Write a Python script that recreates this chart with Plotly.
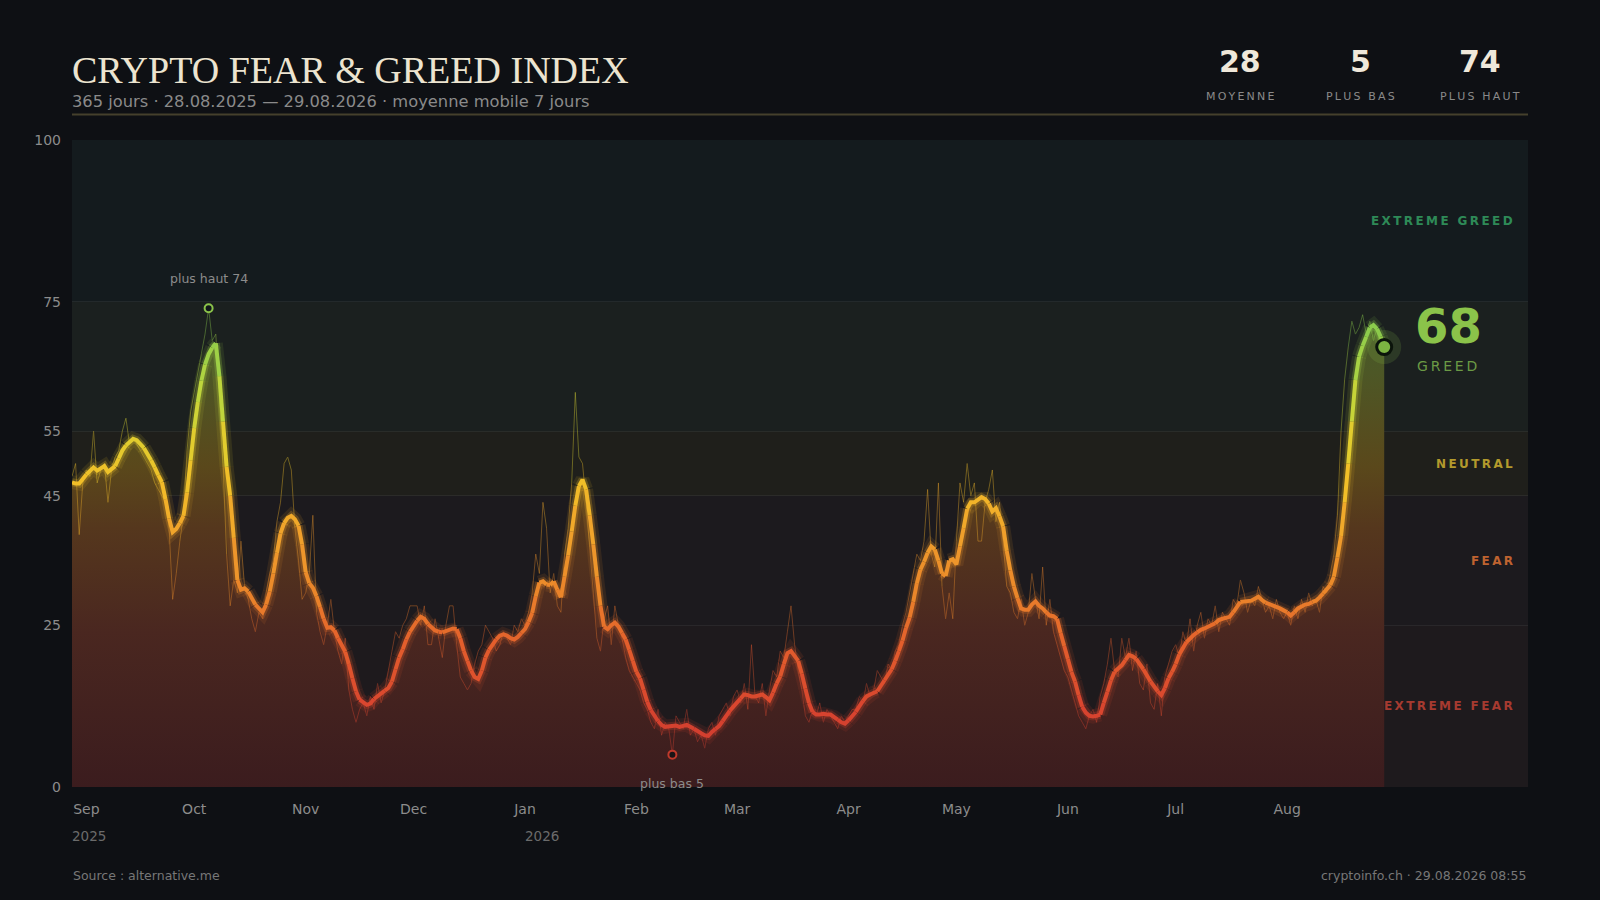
import pandas as pd
import plotly.graph_objects as go

# ----------------
# DATA
# ----------------

start_date = "2025-08-28"
axis_end = "2026-10-07"   # leaves room on the right for the current value

# daily index value (thin line), one list per month
raw_sep = [48, 50, 39, 47, 49, 48, 55, 47, 49, 50, 44, 49, 51, 52, 55, 57, 53, 54, 53, 52,
           51, 50, 49, 47, 46, 45, 44, 40, 29, 33, 38, 42, 52, 58]
raw_oct = [61, 64, 67, 70, 74, 69, 70, 60, 50, 36, 28, 32, 30, 38, 31, 29, 26, 24, 27, 26,
           30, 33, 35, 41, 44, 50, 51, 49, 40, 35, 29]
raw_nov = [30, 33, 42, 27, 24, 22, 25, 29, 24, 21, 19, 23, 15, 12, 10, 12, 13, 11, 14, 12,
           16, 13, 15, 18, 21, 24, 23, 25, 26, 28]
raw_dec = [28, 28, 25, 28, 22, 22, 26, 23, 20, 25, 28, 28, 22, 17, 16, 15, 16, 19, 21, 22,
           25, 24, 23, 21, 22, 24, 23, 22, 25, 24, 26]
raw_jan = [25, 27, 30, 36, 33, 44, 40, 30, 33, 28, 27, 36, 40, 47, 61, 51, 50, 44, 37, 30,
           23, 21, 26, 28, 22, 28, 25, 23, 20, 18, 17]
raw_feb = [16, 15, 13, 12, 10, 9, 12, 8, 10, 9, 5, 11, 10, 9, 12, 8, 9, 7, 8, 6,
           9, 10, 8, 11, 12, 13, 11, 14]
raw_mar = [15, 13, 16, 12, 22, 14, 13, 16, 11, 15, 18, 17, 21, 20, 24, 28, 22, 18, 15, 11,
           10, 12, 11, 13, 10, 12, 11, 10, 9, 11, 10]
raw_apr = [11, 12, 12, 14, 13, 16, 14, 15, 18, 17, 16, 19, 18, 21, 22, 25, 27, 30, 33, 36,
           35, 38, 46, 36, 34, 47, 31, 26, 30, 26]
raw_may = [38, 47, 44, 50, 45, 47, 38, 38, 44, 46, 49, 41, 44, 38, 31, 30, 27, 26, 29, 25,
           27, 33, 29, 26, 34, 25, 29, 24, 22, 20, 18]
raw_jun = [17, 15, 13, 11, 10, 9, 11, 12, 10, 14, 16, 19, 23, 18, 17, 23, 20, 23, 18, 21,
           16, 15, 19, 13, 12, 16, 11, 17, 19, 21]
raw_jul = [22, 20, 24, 22, 26, 21, 25, 27, 23, 26, 25, 28, 24, 27, 26, 25, 29, 28, 32, 30,
           27, 29, 28, 31, 29, 27, 28, 26, 29, 27, 26]
raw_aug = [27, 25, 28, 26, 29, 27, 30, 28, 29, 27, 31, 30, 33, 36, 42, 55, 63, 68, 72, 70,
           71, 73, 70, 72, 69, 71, 67, 68]

# 7 day moving average (thick line)
ma_sep = [47.1, 46.9, 46.9, 47.6, 48.3, 48.9, 49.4, 48.9, 49.2, 49.6, 48.7, 49.1, 49.6, 50.8,
          52.0, 52.8, 53.4, 53.8, 53.6, 53.1, 52.4, 51.5, 50.5, 49.4, 48.2, 47.1, 44.5, 41.5,
          39.4, 39.9, 40.8, 41.9, 45.5, 50.5]
ma_oct = [55.5, 59.5, 62.8, 65.3, 66.9, 67.9, 68.6, 63.5, 56.5, 49.5, 45.0, 38.5, 32.0, 30.5,
          30.7, 30.2, 29.1, 28.2, 27.5, 27.0, 28.2, 30.2, 33.0, 36.2, 39.2, 40.8, 41.6, 41.9,
          41.4, 40.4, 37.5]
ma_nov = [33.2, 31.5, 30.8, 29.5, 27.8, 26.0, 24.6, 24.7, 24.2, 23.0, 21.8, 20.9, 19.0, 16.8,
          14.8, 13.5, 13.0, 12.7, 12.9, 13.6, 14.1, 14.5, 14.9, 15.3, 16.3, 18.2, 20.0, 21.3,
          22.8, 24.0]
ma_dec = [24.9, 25.7, 26.3, 26.0, 25.2, 24.6, 24.2, 24.0, 23.9, 24.1, 24.4, 24.5, 24.4, 23.0,
          21.0, 19.5, 18.0, 17.0, 16.7, 18.0, 20.0, 21.2, 22.0, 22.8, 23.4, 23.6, 23.4, 23.0,
          22.8, 23.2, 23.8]
ma_jan = [24.4, 25.5, 26.9, 29.5, 31.6, 31.8, 31.3, 31.2, 31.8, 30.5, 29.3, 32.5, 35.8, 39.5,
          43.5, 46.5, 47.5, 46.0, 42.0, 37.5, 32.5, 28.0, 24.8, 24.4, 25.0, 25.4, 24.8, 23.8,
          22.8, 21.2, 19.5]
ma_feb = [17.8, 16.8, 15.0, 13.2, 11.9, 11.0, 10.2, 9.6, 9.3, 9.4, 9.5, 9.5, 9.3, 9.4,
          9.6, 9.3, 9.0, 8.6, 8.3, 8.0, 7.9, 8.5, 9.0, 9.4, 10.2, 11.0, 11.8, 12.5]
ma_mar = [13.1, 13.7, 14.3, 14.2, 14.0, 14.0, 14.2, 14.3, 13.9, 13.4, 14.6, 16.0, 17.1, 19.0,
          20.7, 21.0, 20.3, 19.5, 17.5, 15.2, 13.0, 11.6, 11.2, 11.2, 11.3, 11.2, 11.2, 10.8,
          10.4, 10.0, 9.8]
ma_apr = [10.3, 11.0, 11.6, 12.4, 13.3, 14.0, 14.3, 14.6, 14.8, 15.6, 16.5, 17.4, 18.2, 19.5,
          21.0, 22.6, 24.6, 26.2, 28.6, 31.5, 33.6, 34.8, 36.2, 37.2, 36.7, 35.0, 33.0, 32.6,
          35.0, 35.2]
ma_may = [34.4, 37.2, 40.0, 43.0, 44.0, 44.0, 44.5, 44.8, 44.5, 43.8, 42.6, 43.1, 41.8, 40.3,
          36.5, 33.5, 31.0, 29.2, 27.6, 27.4, 27.4, 28.2, 28.7, 28.0, 27.6, 27.0, 26.5, 26.4,
          26.0, 23.8, 21.8]
ma_jun = [19.8, 17.8, 16.3, 14.2, 12.4, 11.5, 11.0, 10.9, 11.0, 11.2, 13.0, 14.7, 16.5, 17.8,
          18.3, 18.8, 19.6, 20.4, 20.2, 19.8, 19.0, 18.2, 17.2, 16.3, 15.5, 14.8, 14.2, 15.3,
          16.8, 17.8]
ma_jul = [19.0, 20.5, 21.5, 22.4, 23.0, 23.5, 23.9, 24.3, 24.5, 24.8, 25.0, 25.3, 25.8, 26.0,
          26.1, 26.3, 27.0, 27.8, 28.6, 28.7, 28.8, 28.8, 29.1, 29.4, 28.9, 28.5, 28.3, 28.0,
          27.8, 27.6, 27.3]
ma_aug = [27.0, 26.5, 27.0, 27.6, 27.9, 28.2, 28.3, 28.6, 28.8, 29.3, 29.9, 30.5, 31.2, 32.5,
          35.5, 38.8, 44.0, 50.0, 56.5, 62.9, 66.5, 68.2, 69.6, 71.0, 71.4, 70.8, 69.6, 68.0]

raw_values = (raw_sep + raw_oct + raw_nov + raw_dec + raw_jan + raw_feb + raw_mar
              + raw_apr + raw_may + raw_jun + raw_jul + raw_aug)
ma7 = (ma_sep + ma_oct + ma_nov + ma_dec + ma_jan + ma_feb + ma_mar
       + ma_apr + ma_may + ma_jun + ma_jul + ma_aug)

month_ticks = ["2025-09-01", "2025-10-01", "2025-11-01", "2025-12-01", "2026-01-01", "2026-02-01",
               "2026-03-01", "2026-04-01", "2026-05-01", "2026-06-01", "2026-07-01", "2026-08-01"]
month_labels = ["Sep", "Oct", "Nov", "Dec", "Jan", "Feb", "Mar", "Apr", "May", "Jun", "Jul", "Aug"]
year_labels = ["2025", "2026"]
year_dates = ["2025-08-28", "2026-01-01"]

stat_values = ["28", "5", "74"]
stat_names = ["MOYENNE", "PLUS BAS", "PLUS HAUT"]

y_ticks = [0, 25, 45, 55, 75, 100]
zone_edges = [0, 25, 45, 55, 75, 100]
zone_names = ["EXTREME FEAR", "FEAR", "NEUTRAL", "GREED", "EXTREME GREED"]
zone_text_colors = ["#a63a30", "#bf6330", "#b39a2c", "#8bc34a", "#2e8a57"]
zone_bg_colors = ["#1e1a1d", "#1c1a1e", "#1f1f1b", "#1b201f", "#141b1e"]

title = "CRYPTO FEAR & GREED INDEX"
subtitle = "365 jours · 28.08.2025 — 29.08.2026 · moyenne mobile 7 jours"
source_text = "Source : alternative.me"
stamp_text = "cryptoinfo.ch · 29.08.2026 08:55"

dates = pd.date_range(start_date, periods=len(raw_values), freq="D").strftime("%Y-%m-%d").tolist()

# ----------------
# COLOURS
# ----------------

bg = "#0e1014"

# line colour by index value
line_stops = [(0, "#c8352e"), (12, "#d8442f"), (22, "#e35f2c"), (30, "#ea842a"),
              (40, "#f0a52b"), (47, "#f2be28"), (55, "#dcd030"), (62, "#b8d63e"),
              (70, "#8ccc4c"), (100, "#6cc04e")]


def hex_rgb(h):
    return tuple(int(h[i:i + 2], 16) for i in (1, 3, 5))


def value_color(v):
    v = max(0, min(100, v))
    for (v0, c0), (v1, c1) in zip(line_stops[:-1], line_stops[1:]):
        if v <= v1:
            t = (v - v0) / (v1 - v0)
            a, b = hex_rgb(c0), hex_rgb(c1)
            return "rgb(%d,%d,%d)" % tuple(round(a[k] + (b[k] - a[k]) * t) for k in range(3))
    return line_stops[-1][1]


def add_gradient_line(fig, xs, ys, bin_size, width, opacity):
    # split the polyline in runs of equal colour bin, one trace per bin
    bins = [int(((ys[i] + ys[i + 1]) / 2) // bin_size) for i in range(len(ys) - 1)]
    groups = {}
    i = 0
    while i < len(bins):
        j = i
        while j + 1 < len(bins) and bins[j + 1] == bins[i]:
            j += 1
        gx, gy = groups.setdefault(bins[i], ([], []))
        gx.extend(xs[i:j + 2] + [None])
        gy.extend(ys[i:j + 2] + [None])
        i = j + 1
    for b, (gx, gy) in sorted(groups.items()):
        fig.add_trace(go.Scatter(
            x=gx, y=gy, mode="lines",
            line=dict(color=value_color((b + 0.5) * bin_size), width=width),
            opacity=opacity, hoverinfo="skip", showlegend=False
        ))


def spaced(s):
    return "\u2009".join(s)


# pixel -> paper helpers (plot area is 72..1528 x 140..787)
def px_x(x):
    return (x - 72) / 1456


def px_y(y):
    return (787 - y) / 647


fig = go.Figure()

# ----------------
# ZONES
# ----------------

for k in range(len(zone_names)):
    fig.add_shape(type="rect", xref="x domain", yref="y", x0=0, x1=1,
                  y0=zone_edges[k], y1=zone_edges[k + 1],
                  fillcolor=zone_bg_colors[k], line_width=0, layer="below")

# ----------------
# AREA + LINES
# ----------------

fig.add_trace(go.Scatter(
    x=dates, y=ma7, mode="none", fill="tozeroy",
    fillgradient=dict(type="vertical", start=0, stop=80,
                      colorscale=[[0, "#3b1c1e"], [0.3, "#4a2720"], [0.5, "#55371d"],
                                  [0.62, "#5a481b"], [0.8, "#4d5726"], [1, "#3f5a2c"]]),
    hoverinfo="skip", showlegend=False
))

add_gradient_line(fig, dates, raw_values, 2, 1, 0.4)
add_gradient_line(fig, dates, ma7, 1.5, 14, 0.11)
add_gradient_line(fig, dates, ma7, 1.5, 8, 0.24)
add_gradient_line(fig, dates, ma7, 1.5, 4, 1)

# ----------------
# HIGH / LOW / CURRENT
# ----------------

i_hi = raw_values.index(max(raw_values))
i_lo = raw_values.index(min(raw_values))

fig.add_trace(go.Scatter(
    x=[dates[i_hi]], y=[raw_values[i_hi]], mode="markers",
    marker=dict(size=8, color="#11171a", line=dict(color="#8bc34a", width=2)),
    hoverinfo="skip", showlegend=False
))
fig.add_trace(go.Scatter(
    x=[dates[i_lo]], y=[raw_values[i_lo]], mode="markers",
    marker=dict(size=8, color="#1a1416", line=dict(color="#c0392b", width=2)),
    hoverinfo="skip", showlegend=False
))
fig.add_annotation(x=dates[i_hi], y=raw_values[i_hi], text="plus haut %d" % raw_values[i_hi],
                   showarrow=False, yshift=30, yanchor="middle",
                   font=dict(size=12.5, color="#8c8c8c"))
fig.add_annotation(x=dates[i_lo], y=raw_values[i_lo], text="plus bas %d" % raw_values[i_lo],
                   showarrow=False, yshift=-29, yanchor="middle",
                   font=dict(size=12.5, color="#8c8c8c"))

current = round(ma7[-1])
fig.add_trace(go.Scatter(
    x=[dates[-1]], y=[ma7[-1]], mode="markers",
    marker=dict(size=34, color="rgba(139,195,74,0.16)"),
    hoverinfo="skip", showlegend=False
))
fig.add_trace(go.Scatter(
    x=[dates[-1]], y=[ma7[-1]], mode="markers",
    marker=dict(size=15, color="#7cb342", line=dict(color="#0b140b", width=3)),
    hoverinfo="skip", showlegend=False
))
fig.add_annotation(x=dates[-1], y=ma7[-1], text="<b>%d</b>" % current, showarrow=False,
                   xanchor="left", yanchor="middle", xshift=29, yshift=21,
                   font=dict(size=48, color="#8bc34a"))
fig.add_annotation(x=dates[-1], y=ma7[-1], text=spaced("GREED"), showarrow=False,
                   xanchor="left", yanchor="middle", xshift=31, yshift=-19,
                   font=dict(size=14, color="#6b9a45"))

# zone labels (the current zone is shown by the big number instead)
for k in range(len(zone_names)):
    if zone_edges[k] <= current < zone_edges[k + 1]:
        continue
    fig.add_annotation(xref="paper", x=0.991, xanchor="right", yanchor="middle",
                       y=(zone_edges[k] + zone_edges[k + 1]) / 2,
                       text="<b>%s</b>" % spaced(zone_names[k]), showarrow=False,
                       font=dict(size=12, color=zone_text_colors[k]))

# ----------------
# HEADER / FOOTER
# ----------------

fig.add_annotation(xref="paper", yref="paper", x=px_x(70), y=px_y(70), xanchor="left",
                   yanchor="middle", text=title, showarrow=False,
                   font=dict(family="Liberation Serif", size=38, color="#ece4d0"))
fig.add_annotation(xref="paper", yref="paper", x=px_x(70), y=px_y(101), xanchor="left",
                   yanchor="middle", text=subtitle, showarrow=False,
                   font=dict(size=16.3, color="#8a8a8a"))
fig.add_shape(type="line", xref="paper", yref="paper", x0=0, x1=1, y0=px_y(114.5), y1=px_y(114.5),
              line=dict(color="#45402c", width=2))

stat_x = [1240, 1360, 1480]
for k in range(len(stat_values)):
    fig.add_annotation(xref="paper", yref="paper", x=px_x(stat_x[k]), y=px_y(62),
                       xanchor="center", yanchor="middle",
                       text="<b>%s</b>" % stat_values[k], showarrow=False,
                       font=dict(size=30, color="#efe8da"))
    fig.add_annotation(xref="paper", yref="paper", x=px_x(stat_x[k]), y=px_y(97),
                       xanchor="center", yanchor="middle",
                       text=spaced(stat_names[k]), showarrow=False,
                       font=dict(size=11, color="#8a8a8a"))

for k in range(len(year_labels)):
    fig.add_annotation(x=year_dates[k], yref="paper", y=px_y(836), xanchor="left",
                       yanchor="middle", text=year_labels[k], showarrow=False, xshift=-2,
                       font=dict(size=13.5, color="#6b6b6b"))

fig.add_annotation(xref="paper", yref="paper", x=px_x(71), y=px_y(875), xanchor="left",
                   yanchor="middle", text=source_text, showarrow=False,
                   font=dict(size=12.5, color="#777777"))
fig.add_annotation(xref="paper", yref="paper", x=1, y=px_y(875), xanchor="right",
                   yanchor="middle", text=stamp_text, showarrow=False,
                   font=dict(size=12.5, color="#777777"))

# ----------------
# LAYOUT
# ----------------

fig.update_layout(
    width=1600, height=900,
    margin=dict(l=72, r=72, t=140, b=113),
    paper_bgcolor=bg, plot_bgcolor=bg,
    font=dict(family="DejaVu Sans", color="#8c8c8c"),
    hovermode=False,
    xaxis=dict(type="date", range=[start_date, axis_end],
               tickvals=month_ticks, ticktext=month_labels,
               showgrid=False, zeroline=False, showline=False, ticks="",
               tickfont=dict(size=14, color="#8c8c8c"), ticklabelstandoff=12),
    yaxis=dict(range=[0, 100], tickvals=y_ticks, showgrid=True,
               gridcolor="rgba(255,255,255,0.07)", gridwidth=1,
               zeroline=False, showline=False, ticks="",
               tickfont=dict(size=14, color="#8c8c8c"), ticklabelstandoff=10),
)

# no white page margin and no mode bar around the figure
fig.write_html("out.html", config={"displayModeBar": False},
               post_script="document.body.style.margin='0';document.body.style.background='%s';" % bg)
